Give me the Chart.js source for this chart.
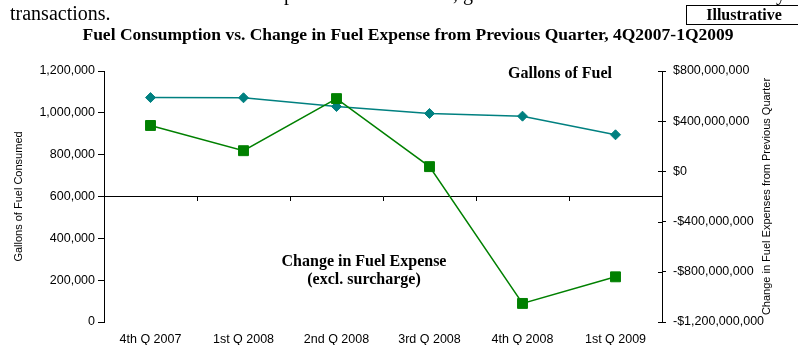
<!DOCTYPE html>
<html>
<head>
<meta charset="utf-8">
<script src="https://cdn.jsdelivr.net/npm/chart.js@4.4.0/dist/chart.umd.min.js"></script>
<style>
  html, body { margin: 0; padding: 0; background: #fff; }
  canvas { display: block; }
</style>
</head>
<body>
<canvas id="fuelChart" width="798" height="345"></canvas>
<script>
// values
const quarters = ['4th Q 2007', '1st Q 2008', '2nd Q 2008', '3rd Q 2008', '4th Q 2008', '1st Q 2009'];
const gallonsConsumed = [1073000, 1072000, 1030000, 997000, 984000, 895000];
const expenseChange = [366000000, 165000000, 580000000, 38000000, -1052000000, -840000000];

const gallonTicks = [0, 200000, 400000, 600000, 800000, 1000000, 1200000];
const expenseTicks = [-1200000000, -800000000, -400000000, 0, 400000000, 800000000];

const SERIF = '"Liberation Serif", "Times New Roman", serif';
const SANS = '"Liberation Sans", Arial, sans-serif';

function fmtNum(v){
	return v.toLocaleString('en-US');
}

function fmtMoney(v){
	return (v < 0 ? '-' : '') + '$' + Math.abs(v).toLocaleString('en-US');
}

// texts around the plot + the inward half of the right axis ticks
const decorations = {
	id: 'decorations',
	afterDraw(chart){
		const ctx = chart.ctx;
		const area = chart.chartArea;
		const midY = (area.top + area.bottom) / 2;

		ctx.save();
		ctx.fillStyle = '#000';

		// bits of the page text around the chart
		ctx.font = '20px ' + SERIF;
		ctx.textAlign = 'left';
		ctx.textBaseline = 'alphabetic';
		ctx.fillText('transactions.', 10, 20);
		ctx.fillText('p', 284, 0);
		ctx.fillText(', g', 453, 0);
		ctx.fillText('y', 776, 0);

		// Illustrative box
		ctx.strokeStyle = '#000';
		ctx.lineWidth = 1;
		ctx.strokeRect(686.5, 5.5, 120, 19);
		ctx.font = 'bold 16px ' + SERIF;
		ctx.textAlign = 'center';
		ctx.fillText('Illustrative', 744, 20);

		// title
		ctx.font = 'bold 17.5px ' + SERIF;
		ctx.fillText('Fuel Consumption vs. Change in Fuel Expense from Previous Quarter, 4Q2007-1Q2009', 408, 40);

		// series notes
		ctx.font = 'bold 16px ' + SERIF;
		ctx.fillText('Gallons of Fuel', 560, 78);
		ctx.fillText('Change in Fuel Expense', 364, 266);
		ctx.fillText('(excl. surcharge)', 364, 284);

		// axis titles, both read bottom to top
		ctx.font = '11px ' + SANS;
		ctx.textBaseline = 'middle';
		ctx.save();
		ctx.translate(19, midY);
		ctx.rotate(-Math.PI / 2);
		ctx.fillText('Gallons of Fuel Consumed', 0, 0);
		ctx.restore();

		ctx.save();
		ctx.translate(767, midY);
		ctx.rotate(-Math.PI / 2);
		ctx.fillText('Change in Fuel Expenses from Previous Quarter', 0, 0);
		ctx.restore();

		// right axis ticks cross the axis line
		const y1 = chart.scales.y1;
		ctx.beginPath();
		y1.ticks.forEach((t) => {
			const py = Math.round(y1.getPixelForValue(t.value)) + 0.5;
			ctx.moveTo(area.right - 4, py);
			ctx.lineTo(area.right, py);
		});
		ctx.stroke();

		ctx.restore();
	}
};

const tickFont = { family: SANS, size: 12.5 };

new Chart(document.getElementById('fuelChart'), {
	type: 'line',
	data: {
		labels: quarters,
		datasets: [
			{
				label: 'Change in Fuel Expense',
				data: expenseChange,
				yAxisID: 'y1',
				xAxisID: 'x',
				order: 1,
				borderColor: '#008000',
				backgroundColor: '#008000',
				borderWidth: 1.5,
				pointStyle: 'rect',
				pointRadius: 7,
				pointBorderWidth: 1,
				tension: 0
			},
			{
				label: 'Gallons of Fuel',
				data: gallonsConsumed,
				yAxisID: 'y',
				xAxisID: 'x',
				order: 2,
				borderColor: '#008080',
				backgroundColor: '#008080',
				borderWidth: 1.5,
				pointStyle: 'rectRot',
				pointRadius: 5,
				pointBorderWidth: 1,
				tension: 0
			}
		]
	},
	options: {
		responsive: false,
		animation: false,
		layout: { padding: { top: 71, left: 0, right: 0, bottom: 0 } },
		plugins: {
			legend: { display: false },
			tooltip: { enabled: false }
		},
		scales: {
			x: {
				type: 'category',
				position: 'bottom',
				offset: true,
				grid: { display: false, drawTicks: false, tickLength: 0 },
				border: { display: false },
				ticks: { color: '#000', font: tickFont, padding: 10, maxRotation: 0, autoSkip: false },
				afterFit(scale){ scale.height = 23; }
			},
			// the category line crosses the left axis at 600,000
			xLine: {
				type: 'category',
				position: { y: 600000 },
				offset: true,
				grid: { offset: true, drawOnChartArea: false, tickLength: 4, color: '#000' },
				border: { display: true, color: '#000', width: 1 },
				ticks: { display: false }
			},
			y: {
				position: 'left',
				min: 0,
				max: 1200000,
				afterBuildTicks(scale){ scale.ticks = gallonTicks.map((v) => ({ value: v })); },
				grid: { drawOnChartArea: false, tickLength: 6, color: '#000' },
				border: { color: '#000' },
				ticks: { color: '#000', font: tickFont, padding: 3, callback: (v) => fmtNum(v) },
				afterFit(scale){ scale.width = 104; }
			},
			y1: {
				position: 'right',
				min: -1200000000,
				max: 800000000,
				afterBuildTicks(scale){ scale.ticks = expenseTicks.map((v) => ({ value: v })); },
				grid: { drawOnChartArea: false, tickLength: 4, color: '#000' },
				border: { color: '#000' },
				ticks: { color: '#000', font: tickFont, padding: 7, callback: (v) => fmtMoney(v) },
				afterFit(scale){ scale.width = 136; }
			}
		}
	},
	plugins: [decorations]
});
</script>
</body>
</html>
